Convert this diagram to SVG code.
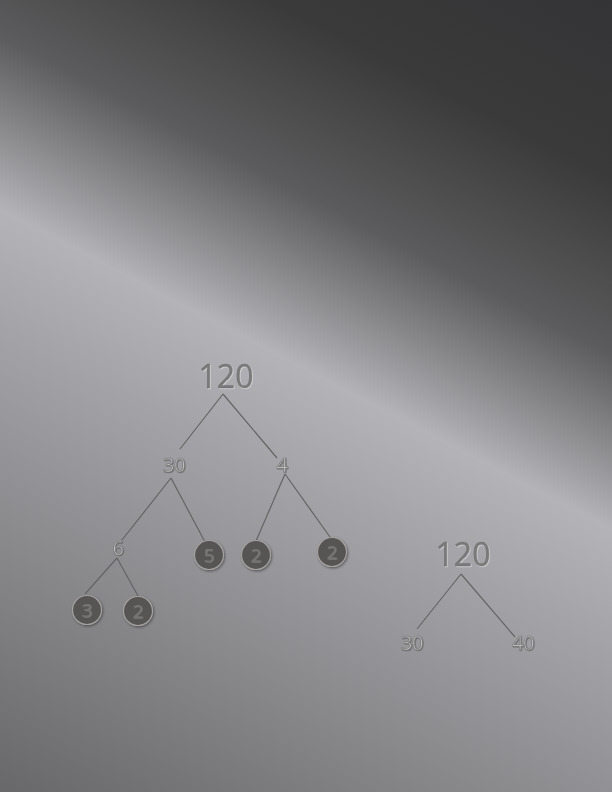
<svg xmlns="http://www.w3.org/2000/svg" width="612" height="792" viewBox="0 0 612 792">
<defs>
<linearGradient id="bg" gradientUnits="userSpaceOnUse" x1="612" y1="0" x2="156" y2="873">
<stop offset="0" stop-color="#343437"/>
<stop offset="0.16" stop-color="#3a3a3a"/>
<stop offset="0.32" stop-color="#5c5c5e"/>
<stop offset="0.476" stop-color="#b4b4b8"/>
<stop offset="0.58" stop-color="#a4a4a8"/>
<stop offset="0.8" stop-color="#858588"/>
<stop offset="1" stop-color="#68686a"/>
</linearGradient>
<filter id="emb" x="-20%" y="-20%" width="140%" height="140%">
<feDropShadow dx="0.8" dy="0.8" stdDeviation="0.4" flood-color="#ffffff" flood-opacity="0.45"/>
</filter>
<filter id="emb2" x="-20%" y="-20%" width="140%" height="140%">
<feDropShadow dx="0.6" dy="0.6" stdDeviation="0.3" flood-color="#b0b0b0" flood-opacity="0.5"/>
</filter>
<filter id="sh" x="-20%" y="-20%" width="140%" height="140%">
<feDropShadow dx="0.6" dy="0.6" stdDeviation="0.4" flood-color="#303030" flood-opacity="0.6"/>
</filter>
<filter id="cs" x="-30%" y="-30%" width="160%" height="160%">
<feDropShadow dx="1" dy="1.2" stdDeviation="0.8" flood-color="#2a2a2a" flood-opacity="0.55"/>
</filter>
</defs>
<style>
.big{font-family:"Open Sans","Noto Sans",sans-serif;font-size:32px;fill:#7a7a7a;stroke:#6a6a6a;stroke-width:0.4;text-anchor:middle;filter:url(#emb)}
.sm{font-family:"Open Sans","Noto Sans",sans-serif;font-size:20px;fill:#bcbcbc;stroke:#707070;stroke-width:0.5;text-anchor:middle;filter:url(#sh);letter-spacing:-0.5px}
.cir{fill:#565453;stroke:#a4a2a0;stroke-width:1.2;filter:url(#cs)}
.cn{font-family:"Open Sans","Noto Sans",sans-serif;font-size:19px;fill:#75736f;text-anchor:middle;filter:url(#emb2)}
.ln{stroke:#646464;stroke-width:1.2;fill:none}
</style>
<rect width="612" height="792" fill="url(#bg)"/>
<g id="connectors">
<line class="ln" x1="223" y1="394" x2="180" y2="449"/>
<line class="ln" x1="223" y1="394" x2="277" y2="458"/>
<line class="ln" x1="171" y1="478" x2="122" y2="540"/>
<line class="ln" x1="171" y1="478" x2="205" y2="542"/>
<line class="ln" x1="285" y1="474" x2="256" y2="541"/>
<line class="ln" x1="285" y1="474" x2="330" y2="537"/>
<line class="ln" x1="117" y1="558" x2="85" y2="594"/>
<line class="ln" x1="117" y1="558" x2="138" y2="596"/>
<line class="ln" x1="461" y1="574" x2="417" y2="629"/>
<line class="ln" x1="461" y1="574" x2="515" y2="637"/>
</g>
<g id="n120"><text class="big" x="226" y="388">120</text></g>
<g id="n30"><text class="sm" x="174" y="472">30</text></g>
<g id="n4"><text class="sm" x="282" y="472">4</text></g>
<g id="n6"><text class="sm" x="118" y="555">6</text></g>
<g id="n5"><circle class="cir" cx="209" cy="555" r="14.5"/><text class="cn" x="209" y="562">5</text></g>
<g id="n2a"><circle class="cir" cx="256" cy="555" r="14.5"/><text class="cn" x="256" y="562">2</text></g>
<g id="n2b"><circle class="cir" cx="332" cy="552" r="14.5"/><text class="cn" x="332" y="559">2</text></g>
<g id="n3"><circle class="cir" cx="87" cy="610" r="14.5"/><text class="cn" x="87" y="617">3</text></g>
<g id="n2c"><circle class="cir" cx="138" cy="611" r="14.5"/><text class="cn" x="138" y="618">2</text></g>
<g id="r120"><text class="big" x="463" y="566">120</text></g>
<g id="r30"><text class="sm" x="412" y="650">30</text></g>
<g id="r40"><text class="sm" x="523" y="650">40</text></g>
</svg>
